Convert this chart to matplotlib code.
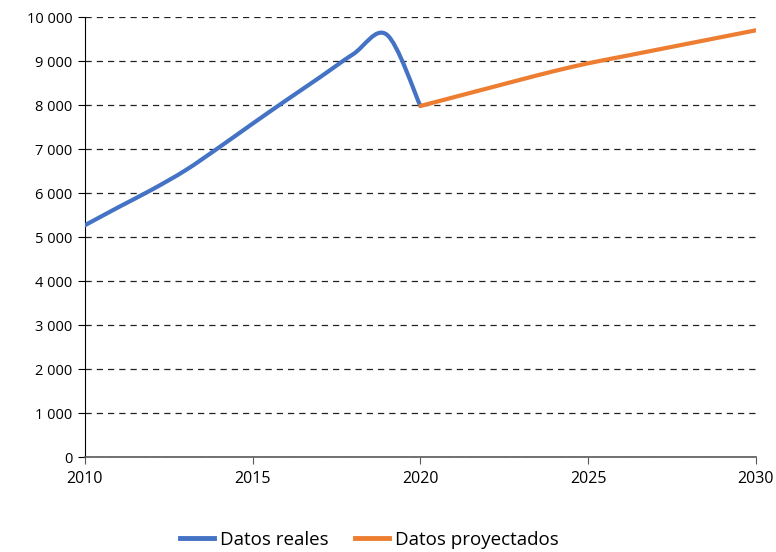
import matplotlib
matplotlib.use('Agg')
import matplotlib.pyplot as plt
from matplotlib.path import Path
from matplotlib.patches import PathPatch
from matplotlib.lines import Line2D
from matplotlib.ticker import FuncFormatter, MultipleLocator

plt.rcParams['font.family'] = ['Open Sans', 'DejaVu Sans']

# Datos
years_real = [2010, 2011, 2012, 2013, 2014, 2015, 2016, 2017, 2018, 2019, 2020]
values_real = [5270, 5680, 6080, 6520, 7040, 7580, 8110, 8630, 9160, 9600, 7980]
years_proj = [2020, 2021, 2022, 2023, 2024, 2025, 2026, 2027, 2028, 2029, 2030]
values_proj = [7980, 8180, 8380, 8580, 8775, 8950, 9100, 9250, 9400, 9550, 9700]
label_real = 'Datos reales'
label_proj = 'Datos proyectados'
color_real = '#4472C4'
color_proj = '#ED7D31'


def smooth_path(x, y):
    """Curva suavizada tipo Excel (Bezier por segmentos)"""
    n = len(x)
    verts = [(x[0], y[0])]
    codes = [Path.MOVETO]
    for i in range(n - 1):
        a = i - 1 if i > 0 else i
        b = i + 2 if i + 2 < n else i + 1
        c1 = (x[i] + (x[i + 1] - x[a]) / 6, y[i] + (y[i + 1] - y[a]) / 6)
        c2 = (x[i + 1] - (x[b] - x[i]) / 6, y[i + 1] - (y[b] - y[i]) / 6)
        verts += [c1, c2, (x[i + 1], y[i + 1])]
        codes += [Path.CURVE4] * 3
    return Path(verts, codes)


fig = plt.figure(figsize=(7.76, 5.52), dpi=100)
ax = fig.add_axes([0.1095, 0.172, 0.8645, 0.797])

for xs, ys, col in [(years_real, values_real, color_real),
                    (years_proj, values_proj, color_proj)]:
    patch = PathPatch(smooth_path(xs, ys), fill=False, edgecolor=col,
                      linewidth=3, capstyle='round', joinstyle='round',
                      transform=ax.transData, zorder=3)
    ax.add_patch(patch)

ax.set_xlim(2010, 2030)
ax.set_ylim(0, 10000)
ax.xaxis.set_major_locator(MultipleLocator(5))
ax.yaxis.set_major_locator(MultipleLocator(1000))
ax.yaxis.set_major_formatter(FuncFormatter(lambda v, _: f'{int(v):,}'.replace(',', ' ')))

ax.yaxis.grid(True, linestyle=(0, (5, 4)), color='#222222', linewidth=0.9)
ax.set_axisbelow(True)

for s in ['top', 'right']:
    ax.spines[s].set_visible(False)
ax.spines['left'].set_color('black')
ax.spines['bottom'].set_color('#595959')
ax.spines['bottom'].set_linewidth(1.2)

ax.tick_params(axis='y', length=5, color='black', labelsize=10.5, pad=4)
ax.tick_params(axis='x', length=5, color='#595959', labelsize=11.5, pad=5)

handles = [Line2D([], [], color=color_real, linewidth=3.5),
           Line2D([], [], color=color_proj, linewidth=3.5)]
fig.legend(handles, [label_real, label_proj], loc='center', bbox_to_anchor=(0.476, 0.022),
           ncol=2, frameon=False, fontsize=13.5, handlelength=1.8, handletextpad=0.32,
           columnspacing=1.45)

fig.savefig('out.png', dpi=100)
